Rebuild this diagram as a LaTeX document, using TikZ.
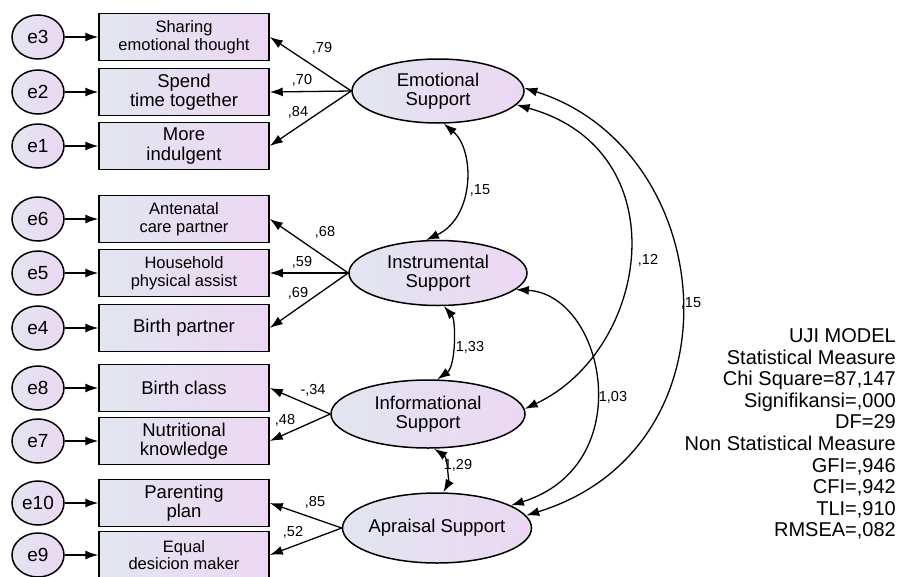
\documentclass[tikz,border=0pt]{standalone}
\usepackage{fontspec}
\setmainfont{Liberation Sans}
\usepackage{xcolor}
\usepackage{tikz}
\usetikzlibrary{shapes,arrows.meta,positioning}
\definecolor{shadeleft}{RGB}{225,230,240}
\definecolor{shaderight}{RGB}{236,215,242}
\newcommand{\fbig}{\fontsize{18.5}{19.5}\selectfont}
\newcommand{\fsmall}{\fontsize{16.5}{17.5}\selectfont}
\def\boxx{184}
\def\errx{38}

\begin{document}
\begin{tikzpicture}[x=1pt,y=-1pt,>={Latex[length=13pt,width=9pt]}]
    \tikzstyle{shaded}=[draw=black, line width=1.5pt, left color=shadeleft, right color=shaderight]
    \tikzstyle{error}=[shaded, ellipse, minimum width=52pt, minimum height=44pt, inner sep=0pt, font=\fontsize{19}{20}\selectfont]
    \tikzstyle{indicator}=[shaded, rectangle, minimum width=170pt, minimum height=47pt, align=center, inner sep=0pt]
    \tikzstyle{latent}=[shaded, ellipse, align=center, inner sep=0pt, font=\fbig]
    \tikzstyle{load}=[->, line width=1.3pt]
    \tikzstyle{cov}=[<->, line width=1.3pt]
    \tikzstyle{coef}=[font=\fontsize{14.5}{15}\selectfont, inner sep=0pt]

    \useasboundingbox (0,0) rectangle (899,576);

    % Draw the error terms and the observed indicators
    \foreach \name / \y / \txt / \fnt in {3/37/{Sharing\\emotional thought}/\fsmall,
        2/92/{Spend\\time together}/\fbig, 1/146/{More\\indulgent}/\fbig,
        6/219/{Antenatal\\care partner}/\fsmall, 5/273/{Household\\physical assist}/\fsmall,
        4/328/{Birth partner}/\fbig, 8/388/{Birth class}/\fbig,
        7/441/{Nutritional\\knowledge}/\fbig, 10/503/{Parenting\\plan}/\fbig,
        9/555/{Equal\\desicion maker}/\fsmall}
    {
        \node[indicator, font=\fnt] (X-\name) at (\boxx,\y) {\txt};
        \node[error] (E-\name) at (\errx,\y) {e\name};
        \path[load] (E-\name) edge (X-\name);
    }

    % Draw the latent variables
    \node[latent, minimum width=172pt, minimum height=64pt] (Emo) at (438,91) {Emotional\\Support};
    \node[latent, minimum width=178pt, minimum height=65pt] (Ins) at (438,273) {Instrumental\\Support};
    \node[latent, minimum width=194pt, minimum height=68pt] (Inf) at (428,414) {Informational\\Support};
    \node[latent, minimum width=189pt, minimum height=70pt] (Apr) at (437,528) {\makebox[0pt]{Apraisal Support}};

    % Connect every latent variable with its indicators
    \foreach \dest in {3,2,1}
        \draw[load] (Emo.west) -- (X-\dest.east);
    \foreach \dest in {6,5,4}
        \draw[load] (Ins.west) -- (X-\dest.east);
    \foreach \dest in {8,7}
        \draw[load] (Inf.west) -- (X-\dest.east);
    \foreach \dest in {10,9}
        \draw[load] (Apr.west) -- (X-\dest.east);

    % Loadings
    \foreach \name / \x / \y / \val in {3/322/48/{,79}, 2/302/80/{,70}, 1/298/112/{,84},
        6/325/232/{,68}, 5/302/262/{,59}, 4/298/293/{,69}, 8/313/390/{-,34},
        7/285/420/{,48}, 10/315/502/{,85}, 9/293/532/{,52}}
        \node[coef] (L-\name) at (\x,\y) {\val};

    % Covariances between the latent variables
    \draw[cov] (Emo.-80) .. controls (475,150) and (475,217) .. (Ins.110);
    \draw[cov] (Ins.-80) .. controls (456,320) and (456,366) .. (Inf.75);
    \draw[cov] (Inf.-80) .. controls (448,458) and (448,484) .. (Apr.80);
    \draw[cov] (Ins.-12) .. controls (605,295) and (640,465) .. (Apr.17);
    \draw[cov] (Emo.-10) .. controls (680,150) and (650,350) .. (Inf.3);
    \draw[cov] (Emo.2) .. controls (720,150) and (745,448) .. (Apr.8);

    \node[coef] (C-1) at (480,190) {,15};
    \node[coef] (C-2) at (470,347) {1,33};
    \node[coef] (C-3) at (458,465) {1,29};
    \node[coef] (C-4) at (613,397) {1,03};
    \node[coef] (C-5) at (648,260) {,12};
    \node[coef] (C-6) at (691,303) {,15};

    % Model fit
    \node[anchor=east, align=right, inner sep=0pt, font=\fontsize{20}{21.6}\selectfont] (fit) at (896,434)
        {UJI MODEL\\Statistical Measure\\Chi Square=87,147\\Signifikansi=,000\\DF=29\\
         Non Statistical Measure\\GFI=,946\\CFI=,942\\TLI=,910\\RMSEA=,082};
\end{tikzpicture}
\end{document}
